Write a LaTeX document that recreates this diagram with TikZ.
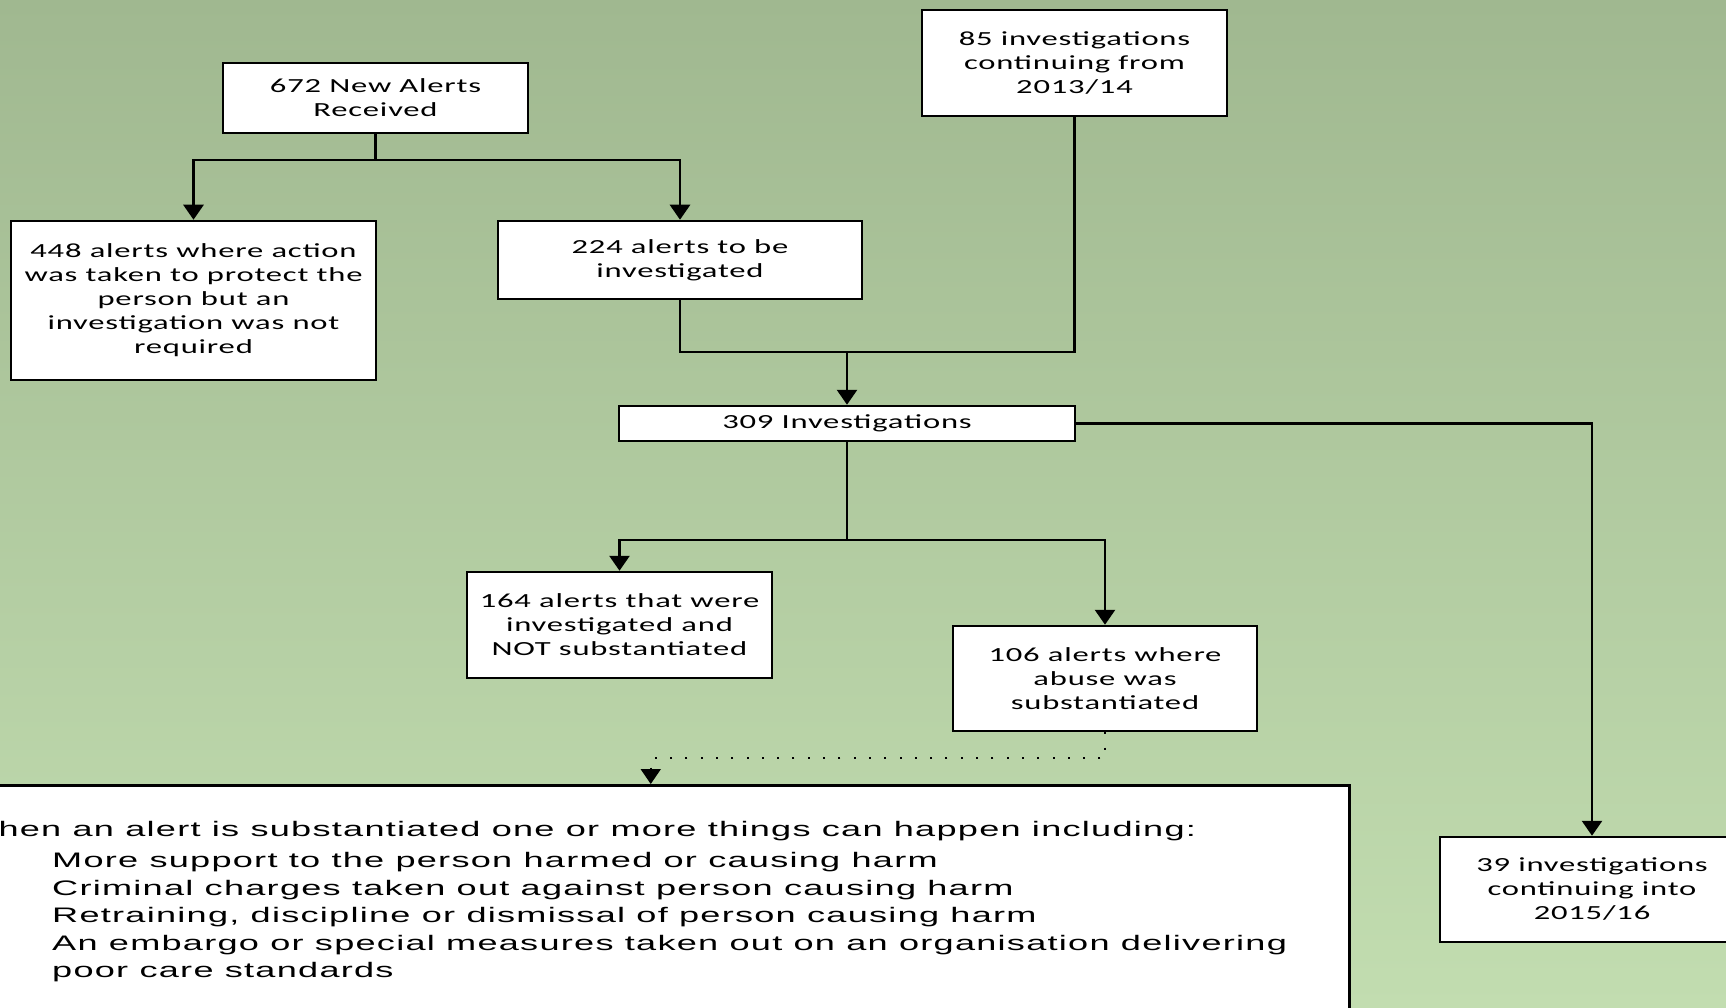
\documentclass[tikz,border=0pt]{standalone}
\usepackage{fontspec}
\newfontfamily\boxfont[FakeStretch=1.63,LetterSpace=4]{Carlito}
\newfontfamily\notefont[FakeStretch=1.72,LetterSpace=6]{Liberation Sans}
\usetikzlibrary{arrows.meta}
\definecolor{bgtop}{RGB}{160,184,144}
\definecolor{bgbot}{RGB}{194,221,176}

\begin{document}
\begin{tikzpicture}[x=1pt,y=-1pt]
    \tikzstyle{edge}  = [line width=2.8pt,draw=black]
    \tikzstyle{dedge} = [edge,-{Triangle[width=20pt,length=15pt]}]
    \tikzstyle{dotedge} = [dedge,line width=2pt,dash pattern=on 2pt off 13.3pt]
    \tikzstyle{sbox}=[
      draw=black,
      fill=white,
      line width=2.5pt,
      align=center,
      inner sep=0pt,
      font=\boxfont\fontsize{20}{24}\selectfont,
    ]

    \useasboundingbox (0,0) rectangle (1726,1008);
    \clip (0,0) rectangle (1726,1008);
    \shade[top color=bgtop,bottom color=bgbot] (0,0) rectangle (1726,1008);

    {
      \node[sbox,minimum width=305pt,minimum height=70pt] (new) at (375.5,98) {672 New Alerts\\Received};
      \node[sbox,minimum width=305pt,minimum height=106pt] (cont) at (1074.5,63) {85 investigations\\continuing from\\2013/14};

      \node[sbox,minimum width=365pt,minimum height=159pt] (prot) at (193.5,300.5) {448 alerts where action\\was taken to protect the\\person but an\\investigation was not\\required};
      \node[sbox,minimum width=364pt,minimum height=78pt] (tobe) at (680,260) {224 alerts to be\\investigated};

      \node[sbox,minimum width=456pt,minimum height=35pt] (inv) at (847,423.5) {309 Investigations};

      \node[sbox,minimum width=305pt,minimum height=106pt] (notsub) at (619.5,625) {164 alerts that were\\investigated and\\NOT substantiated};
      \node[sbox,minimum width=304pt,minimum height=105pt] (sub) at (1105,678.5) {106 alerts where\\abuse was\\substantiated};

      \node[sbox,minimum width=304pt,minimum height=105pt] (next) at (1592,889.5) {39 investigations\\continuing into\\2015/16};

      \node[sbox,minimum width=1397pt,minimum height=260pt,anchor=north west] (info) at (-49,784) {};
      \node[anchor=north west,align=left,inner sep=0pt,font=\notefont\fontsize{21}{27.5}\selectfont] (infotext) at (-37,821)
        {When an alert is substantiated one or more things can happen including:\\[4pt]
         \hspace*{89pt}More support to the person harmed or causing harm\\
         \hspace*{89pt}Criminal charges taken out against person causing harm\\
         \hspace*{89pt}Retraining, discipline or dismissal of person causing harm\\
         \hspace*{89pt}An embargo or special measures taken out on an organisation delivering\\
         \hspace*{89pt}poor care standards};
    }

    \coordinate (j1) at (375.5,160);
    \coordinate (j2) at (847,352);
    \coordinate (j3) at (847,540);

    {
      \draw[edge] (new.south) -- (j1);
      \draw[dedge] (j1) -| (prot.north);
      \draw[dedge] (j1) -| (tobe.north);

      \draw[edge] (tobe.south) |- (j2);
      \draw[edge] (cont.south) |- (j2);
      \draw[dedge] (j2) -- (inv.north);

      \draw[edge] (inv.south) -- (j3);
      \draw[dedge] (j3) -| (notsub.north);
      \draw[dedge] (j3) -| (sub.north);

      \draw[dedge] (inv.east) -| (next.north);

      \draw[dotedge] (sub.south) -- ++(0,26) -| (info.north);
    }
\end{tikzpicture}
\end{document}
